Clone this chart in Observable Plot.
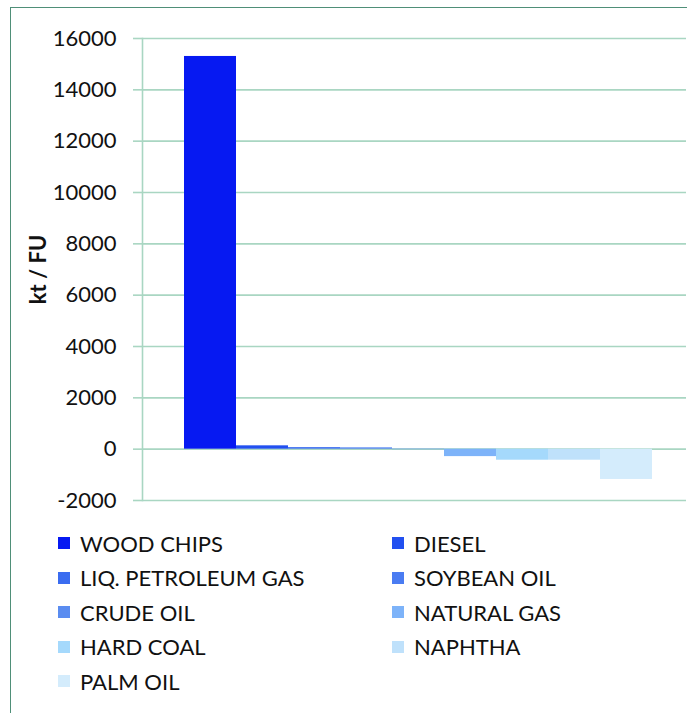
<!DOCTYPE html>
<html>
<head>
<meta charset="utf-8">
<script src="https://cdn.jsdelivr.net/npm/d3@7"></script>
<script src="https://cdn.jsdelivr.net/npm/@observablehq/plot@0.6"></script>
<style>
  html, body { margin: 0; padding: 0; background: #fff; }
  body { width: 687px; height: 713px; position: relative; overflow: hidden; font-family: Lato, "Open Sans", sans-serif; }
  #frame { position: absolute; left: 10px; top: 7px; right: -5px; bottom: -5px; border-left: 1.5px solid #4f8f78; border-top: 1.5px solid #4f8f78; }
  #chart { position: absolute; left: 0; top: 0; }
  #chart svg text { font-family: Lato, sans-serif; }
  #chart [aria-label="y-axis label"] text, #chart [aria-label="y-axis label"] { font-weight: bold; }
  .lg { position: absolute; display: flex; align-items: center; font-size: 22px; color: #111; white-space: nowrap; }
  .lg .sw { width: 12px; height: 12px; margin-right: 10px; }
</style>
</head>
<body>
<div id="frame"></div>
<div id="chart"></div>
<div id="legend"></div>
<script>
const categories = ["WOOD CHIPS", "DIESEL", "LIQ. PETROLEUM GAS", "SOYBEAN OIL", "CRUDE OIL", "NATURAL GAS", "HARD COAL", "NAPHTHA", "PALM OIL"];
const values = [15300, 130, 60, 50, -20, -290, -430, -430, -1180];
const colors = ["#0619f2", "#2250f0", "#3a6cf0", "#4a7cf2", "#5a8cf0", "#7db3f9", "#a5d9fc", "#bfe1fb", "#d4ecfc"];
const yTicks = [-2000, 0, 2000, 4000, 6000, 8000, 10000, 12000, 14000, 16000];

const data = categories.map((c, i) => ({name: c, value: values[i]}));
const gridColor = "#a9d6c2";

const plot = Plot.plot({
  width: 687,
  height: 515,
  marginLeft: 142,
  marginTop: 38,
  marginBottom: 15,
  marginRight: 1,
  style: {fontSize: "22px", fontFamily: "Lato, sans-serif", color: "#111", background: "transparent"},
  x: {type: "band", domain: categories, range: [181, 654], padding: 0, axis: null},
  y: {domain: [-2000, 16000], ticks: yTicks, label: "kt / FU"},
  color: {domain: categories, range: colors},
  marks: [
    Plot.gridY(yTicks, {stroke: gridColor, strokeOpacity: 1, strokeWidth: 1.6}),
    Plot.axisY(yTicks, {tickSize: 9, tickPadding: 17, stroke: gridColor, strokeOpacity: 1, strokeWidth: 1.6,
      label: "kt / FU", labelAnchor: "center", labelArrow: "none", labelOffset: 112, tickFormat: d => String(d)}),
    Plot.frame({anchor: "left", stroke: gridColor, strokeOpacity: 1, strokeWidth: 1.6}),
    Plot.barY(data, {x: "name", y: "value", fill: "name"})
  ]
});
document.getElementById("chart").appendChild(plot);

// legend: two columns, rows in reading order
const legend = document.getElementById("legend");
const colX = [58, 392];
const rowY = [543, 577.5, 612, 646.5, 681];
categories.forEach((c, i) => {
  const col = i % 2, row = Math.floor(i / 2);
  const el = document.createElement("div");
  el.className = "lg";
  el.style.left = colX[col] + "px";
  el.style.top = (rowY[row] - 14) + "px";
  el.style.height = "28px";
  const sw = document.createElement("span");
  sw.className = "sw";
  sw.style.background = plot.scale("color").apply(c);
  const tx = document.createElement("span");
  tx.textContent = c;
  el.appendChild(sw);
  el.appendChild(tx);
  legend.appendChild(el);
});
</script>
</body>
</html>
